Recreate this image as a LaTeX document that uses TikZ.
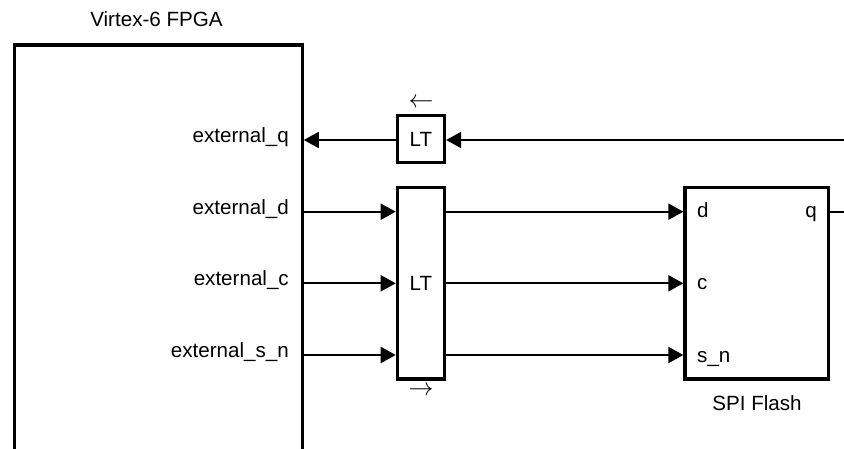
\documentclass[tikz,border=0pt]{standalone}
\usepackage{fontspec}
\setmainfont{Liberation Sans}
\usetikzlibrary{arrows.meta}
\tikzset{
  box/.style={draw=black, line width=3.3pt, fill=white, inner sep=0pt},
  conn/.style={line width=2pt, -{Triangle[length=15pt,width=16pt]}},
  plain/.style={line width=2pt},
  lbl/.style={inner sep=0pt, font=\fontsize{20.6}{24}\selectfont},
  dirarrow/.style={inner sep=0pt, font=\fontsize{24}{28}\selectfont}
}
\begin{document}
\begin{tikzpicture}[x=1pt,y=-1pt]
\useasboundingbox (0,0) rectangle (844,449);
% boxes
\node[box, minimum width=287.5, minimum height=440, anchor=north west] (fpga) at (13,43.3) {};
\node[box, lbl, minimum width=47, minimum height=47] (lt1) at (421,139) {LT};
\node[box, lbl, minimum width=47.3, minimum height=191.5] (lt2) at (421,283.25) {LT};
\node[box, minimum width=143.7, minimum height=191.5] (spi) at (756.85,283.25) {};
% titles
\node[lbl, anchor=base] (ftitle) at (156.5,27) {Virtex-6 FPGA};
\node[lbl, anchor=base] (stitle) at (757,410) {SPI Flash};
\node[dirarrow] (larr) at (421,103) {$\leftarrow$};
\node[dirarrow] (rarr) at (421,391) {$\rightarrow$};
% port coordinates
\coordinate (yq) at (0,140);
\coordinate (yd) at (0,211.7);
\coordinate (yc) at (0,283.3);
\coordinate (ys) at (0,355);
\coordinate (qin) at (844,140);
\coordinate (qout) at (844,211.7);
% FPGA labels
\node[lbl, anchor=mid east] (lq) at (289,140) {external\_q};
\node[lbl, anchor=mid east] (ld) at (289,211.7) {external\_d};
\node[lbl, anchor=mid east] (lc) at (289,283.3) {external\_c};
\node[lbl, anchor=mid east] (ls) at (289,355) {external\_s\_n};
% SPI labels
\node[lbl, anchor=base west] (sd) at (697,218) {d};
\node[lbl, anchor=base west] (sc) at (697,290) {c};
\node[lbl, anchor=base west] (ss) at (697,362.5) {s\_n};
\node[lbl, anchor=base east] (sq) at (817,218) {q};
% connectors
\draw[conn] (qin) -- (lt1.east |- yq);
\draw[conn] (lt1.west |- yq) -- (fpga.east |- yq);
\draw[conn] (fpga.east |- yd) -- (lt2.west |- yd);
\draw[conn] (fpga.east |- yc) -- (lt2.west |- yc);
\draw[conn] (fpga.east |- ys) -- (lt2.west |- ys);
\draw[conn] (lt2.east |- yd) -- (spi.west |- yd);
\draw[conn] (lt2.east |- yc) -- (spi.west |- yc);
\draw[conn] (lt2.east |- ys) -- (spi.west |- ys);
\draw[plain] (spi.east |- yd) -- (qout);
\end{tikzpicture}
\end{document}
